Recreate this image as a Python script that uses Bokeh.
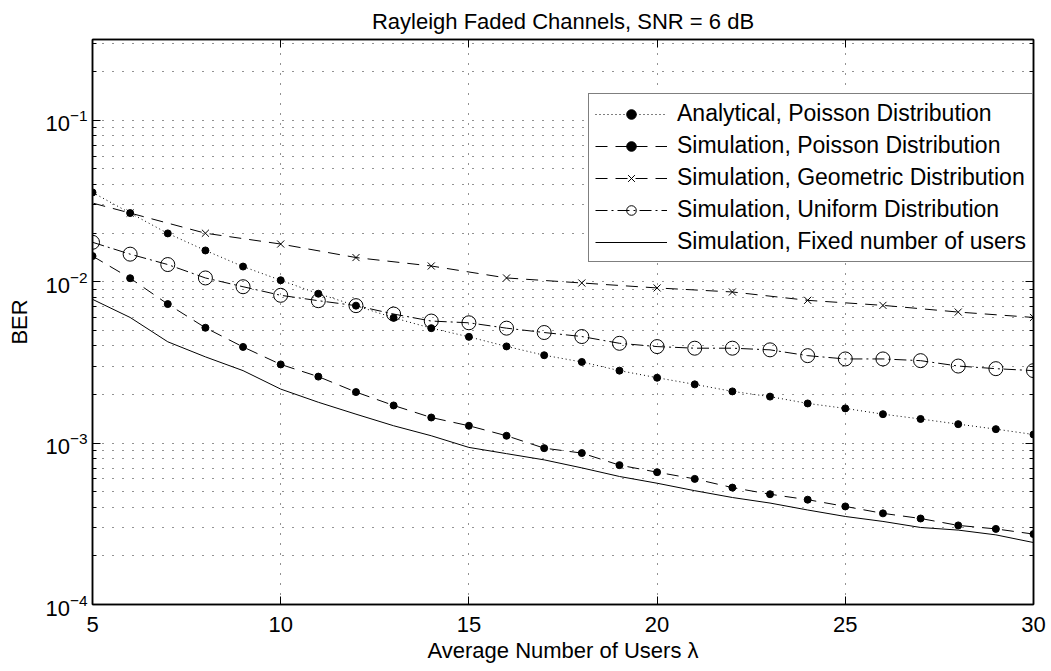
from bokeh.plotting import figure
from bokeh.models import (LogAxis, LinearAxis, FixedTicker, Legend, LegendItem,
                          CustomJSTickFormatter, Range1d)
from bokeh.embed import file_html
from bokeh.resources import INLINE

# ---------------- data ----------------
lam = list(range(5, 31))
analytical_poisson = [0.0357, 0.0266, 0.0199, 0.0156, 0.0124, 0.0102, 0.00842, 0.0071,
                      0.00597, 0.00515, 0.00455, 0.00397, 0.0035, 0.00318, 0.00281,
                      0.00254, 0.00231, 0.00209, 0.00194, 0.00176, 0.00164, 0.00151,
                      0.00141, 0.00131, 0.00122, 0.00113]
sim_poisson = [0.0144, 0.0105, 0.00726, 0.00518, 0.00394, 0.00307, 0.00258, 0.00207,
               0.00171, 0.00144, 0.00128, 0.00111, 0.00093, 0.000867, 0.00073, 0.00066,
               0.0006, 0.00053, 0.000482, 0.000446, 0.000405, 0.000367, 0.000341,
               0.000309, 0.000294, 0.000273]
geo_lam = [4, 6, 8, 10, 12, 14, 16, 18, 20, 22, 24, 26, 28, 30]
sim_geometric = [0.0354, 0.0266, 0.01995, 0.0171, 0.0141, 0.0125, 0.01054, 0.00981,
                 0.00914, 0.00863, 0.00766, 0.00713, 0.00648, 0.0060]
sim_uniform = [0.01753, 0.0148, 0.01276, 0.01054, 0.0093, 0.00823, 0.00762, 0.0071,
               0.0063, 0.0057, 0.00556, 0.00515, 0.00484, 0.00457, 0.00415, 0.00396,
               0.00387, 0.00387, 0.00378, 0.00348, 0.00332, 0.00332, 0.00324, 0.0030,
               0.00289, 0.00281]
sim_fixed = [0.00777, 0.0060, 0.00424, 0.00342, 0.00281, 0.00216, 0.00179, 0.00151,
             0.00128, 0.00111, 0.00094, 0.00086, 0.000787, 0.000702, 0.000621, 0.000564,
             0.000507, 0.00046, 0.000425, 0.000385, 0.000351, 0.000327, 0.0003, 0.000289,
             0.00027, 0.000242]

x_ticks = [5, 10, 15, 20, 25, 30]
y_ticks = [1e-4, 1e-3, 1e-2, 1e-1]
labels = ["Analytical, Poisson Distribution",
          "Simulation, Poisson Distribution",
          "Simulation, Geometric Distribution",
          "Simulation, Uniform Distribution",
          "Simulation, Fixed number of users"]
title = "Rayleigh Faded Channels, SNR = 6 dB"
x_label = "Average Number of Users \u03bb"
y_label = "BER"

FONT = "Liberation Sans"
y_minor = [m * 10.0 ** e for e in range(-4, 0) for m in range(2, 10)]

p = figure(width=1051, height=671, x_range=Range1d(5, 30),
           y_range=Range1d(1e-4, 10 ** -0.5), y_axis_type="log",
           output_backend="svg", toolbar_location=None,
           min_border_left=92, min_border_right=18, min_border_top=39,
           min_border_bottom=67, background_fill_color="white",
           border_fill_color="white")

p.outline_line_color = "black"
p.outline_line_width = 1.5

# title
p.title.text = title
p.title.align = "center"
p.title.text_font = FONT
p.title.text_font_size = "22px"
p.title.text_font_style = "normal"
p.title.text_color = "black"
p.title.standoff = 12
p.title.offset = 0

# main axes
xt = FixedTicker(ticks=x_ticks, minor_ticks=[])
yt = FixedTicker(ticks=y_ticks, minor_ticks=y_minor)
for ax in (p.xaxis[0], p.yaxis[0]):
    ax.major_label_text_font = FONT
    ax.major_label_text_font_size = "22px"
    ax.major_label_text_color = "black"
    ax.axis_label_text_font = FONT
    ax.axis_label_text_font_size = "22px"
    ax.axis_label_text_font_style = "normal"
    ax.axis_label_text_color = "black"
    ax.axis_line_color = "black"
    ax.axis_line_width = 1.5
    ax.major_tick_in = 8
    ax.major_tick_out = 0
    ax.minor_tick_in = 4
    ax.minor_tick_out = 0
    ax.major_tick_line_color = "black"
    ax.minor_tick_line_color = "black"

p.xaxis[0].ticker = xt
p.yaxis[0].ticker = yt
p.xaxis[0].axis_label = x_label
p.yaxis[0].axis_label = y_label
p.xaxis[0].major_label_standoff = 12
p.xaxis[0].axis_label_standoff = 3
p.yaxis[0].major_label_standoff = 5
p.yaxis[0].axis_label_standoff = 10

# box axes (ticks only)
blank = CustomJSTickFormatter(code="return ''")
right = LogAxis(ticker=yt, formatter=blank, major_tick_in=8, major_tick_out=0,
                minor_tick_in=4, minor_tick_out=0, major_label_standoff=0,
                major_label_text_font_size="0px", axis_line_width=1.5)
top = LinearAxis(ticker=xt, formatter=blank, major_tick_in=8, major_tick_out=0,
                 minor_tick_in=0, minor_tick_out=0, major_label_standoff=0,
                 major_label_text_font_size="0px", axis_line_width=1.5)
p.add_layout(right, "right")
p.add_layout(top, "above")

# grids
for g in (p.xgrid[0], p.ygrid[0]):
    g.grid_line_color = "black"
    g.grid_line_width = 1
    g.grid_line_dash = "1 9"
    g.grid_line_alpha = 0.85
p.xgrid[0].ticker = xt
p.ygrid[0].ticker = yt
p.ygrid[0].minor_grid_line_color = "black"
p.ygrid[0].minor_grid_line_dash = "1 9"
p.ygrid[0].minor_grid_line_alpha = 0.85

# series
l1 = p.line(lam, analytical_poisson, line_color="black", line_width=1, line_dash="1 3")
s1 = p.scatter(lam, analytical_poisson, marker="circle", size=7, fill_color="black",
               line_color="black")
l2 = p.line(lam, sim_poisson, line_color="black", line_width=1, line_dash="12 8")
s2 = p.scatter(lam, sim_poisson, marker="circle", size=7, fill_color="black",
               line_color="black")
l3 = p.line(geo_lam, sim_geometric, line_color="black", line_width=1, line_dash="12 8")
s3 = p.scatter(geo_lam, sim_geometric, marker="x", size=10, line_color="black",
               line_width=1)
l4 = p.line(lam, sim_uniform, line_color="black", line_width=1, line_dash="12 4 2 4")
s4 = p.scatter(lam, sim_uniform, marker="circle", size=14, fill_alpha=0,
               line_color="black", line_width=1)
l5 = p.line(lam, sim_fixed, line_color="black", line_width=1)

legend = Legend(items=[LegendItem(label=labels[0], renderers=[l1, s1]),
                       LegendItem(label=labels[1], renderers=[l2, s2]),
                       LegendItem(label=labels[2], renderers=[l3, s3]),
                       LegendItem(label=labels[3], renderers=[l4, s4]),
                       LegendItem(label=labels[4], renderers=[l5])],
                location=(496, 342), margin=0, padding=6, spacing=5,
                glyph_width=72, glyph_height=24, label_height=24,
                label_standoff=10, label_text_font=FONT,
                label_text_font_size="23px", label_text_color="black",
                border_line_color="black", border_line_width=1,
                background_fill_color="white", background_fill_alpha=1)
p.add_layout(legend)

open("out.html", "w").write(file_html(p, INLINE))
